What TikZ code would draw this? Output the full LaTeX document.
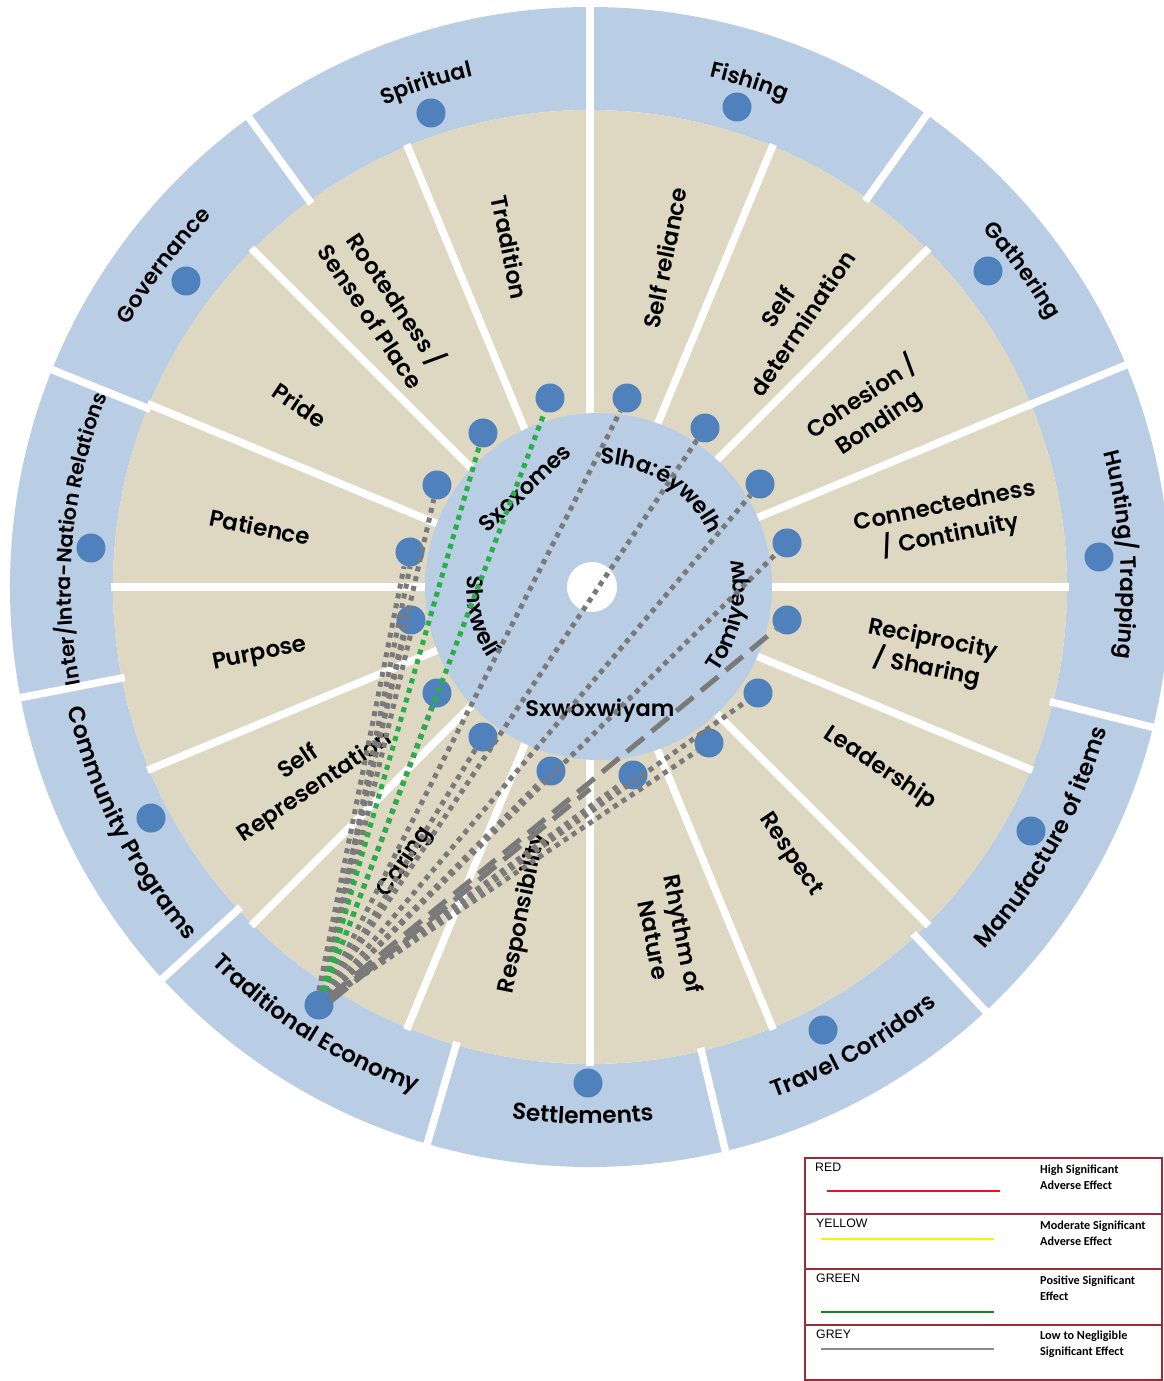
\documentclass[tikz,border=0pt]{standalone}
\usepackage{fontspec}
\usetikzlibrary{decorations.text}
\newfontfamily\lab{Poppins SemiBold}
\newfontfamily\legA{Liberation Sans}
\newfontfamily\legB{Carlito}
\definecolor{ringblue}{HTML}{B9CDE4}
\definecolor{beige}{HTML}{DED8C3}
\definecolor{dotblue}{HTML}{4F81BD}
\definecolor{lgrey}{HTML}{7A7A7A}
\definecolor{lgreen}{HTML}{2AAE48}
\definecolor{legred}{HTML}{9E2A36}
\definecolor{legline}{HTML}{E8141E}
\definecolor{legyellow}{HTML}{F7F200}
\definecolor{leggreen}{HTML}{12881E}
\definecolor{leggrey}{HTML}{8C8C8C}
\newcommand\olab{\lab\fontsize{22}{24}\selectfont}
\newcommand\olabb{\lab\fontsize{23.2}{25}\selectfont}
\newcommand\olabs{\lab\fontsize{20.7}{24}\selectfont}
\newcommand\ilab{\lab\fontsize{22.5}{24}\selectfont}
\newcommand\blabf{\lab\fontsize{23}{30}\selectfont}
% clockwise / counter-clockwise text along an arc: angle, radius, half span, text
\newcommand\cwtext[4]{\path[decorate,decoration={text along path,text align=center,text={#4}}] ({#1+#3}:#2pt) arc[start angle={#1+#3},end angle={#1-#3},radius=#2pt];}
\newcommand\ccwtext[4]{\path[decorate,decoration={text along path,text align=center,text={#4}}] ({#1-#3}:#2pt) arc[start angle={#1-#3},end angle={#1+#3},radius=#2pt];}
\tikzset{
  dot/.style={circle,fill=dotblue,minimum size=29pt,inner sep=0pt},
  spoke/.style={draw=white,line width=7.5pt},
  blab/.style={font=\blabf,align=center,inner sep=0pt,text=black},
  ilabel/.style={font=\ilab,inner sep=0pt,text=black},
  gdot/.style={draw=lgrey,line width=5pt,dash pattern=on 5pt off 5pt},
  grdot/.style={draw=lgreen,line width=5pt,dash pattern=on 5pt off 5pt},
  ldash/.style={draw=lgrey,line width=5pt,dash pattern=on 22pt off 10pt},
  legtitle/.style={font=\legA\fontsize{12.3}{14}\selectfont,anchor=west,inner sep=0pt},
  legdesc/.style={font=\legB\bfseries\fontsize{12.2}{16}\selectfont,anchor=west,align=left,inner sep=0pt},
}
\begin{document}
\begin{tikzpicture}[x=1pt,y=1pt]
\useasboundingbox (-590,-794) rectangle (574,587);
% rings
\fill[ringblue,even odd rule] (0,0) circle[radius=580pt] (0,0) circle[radius=477pt];
\fill[beige] (0,0) circle[radius=477pt];
\foreach \a in {0,22.5,...,337.5} \draw[spoke] (\a:165pt) -- (\a:479pt);
\foreach \a in {90,54.5,22.5,-14,-47,-76.5,-106.3,-137.5,-169,158,126} \draw[spoke] (\a:474pt) -- (\a:586pt);
\fill[ringblue] (8.5,0.5) circle[radius=173.5pt];
\fill[white] (2,0) circle[radius=25pt];
% outer labels
\cwtext{108}{524}{40}{|\olab|Spiritual}
\cwtext{72.5}{524}{40}{|\olab|Fishing}
\cwtext{36.2}{531}{40}{|\olab|Gathering}
\cwtext{3.5}{531}{40}{|\olab|Hunting/ Trapping}
\cwtext{174.6}{519}{40}{|\olabs|Inter/Intra-Nation Relations}
\cwtext{143}{530}{40}{|\olab|Governance}
\ccwtext{-29}{536}{40}{|\olabb|Manufacture of items}
\ccwtext{-60.2}{543}{40}{|\olabb|Travel Corridors}
\ccwtext{-90.8}{537}{40}{|\olabb|Settlements}
\ccwtext{-122.1}{534}{40}{|\olabb|Traditional Economy}
\ccwtext{-152.8}{536}{40}{|\olabb|Community Programs}
% middle ring labels
\node[blab,rotate=11.25] (lcon) at (358,65) {Connectedness\\/ Continuity};
\node[blab,rotate=33.75] (lcoh) at (280,177) {Cohesion /\\Bonding};
\node[blab,rotate=56.25] (lsdt) at (200,272) {Self\\determination};
\node[blab,rotate=78.75] (lsrl) at (75,329) {Self reliance};
\node[blab,rotate=-78.75] (ltra) at (-80,340) {Tradition};
\node[blab,rotate=-56.25] (lroo) at (-205,280) {Rootedness /\\Sense of Place};
\node[blab,rotate=-33.75] (lpri) at (-290,182) {Pride};
\node[blab,rotate=-11.25] (lpat) at (-330,60) {Patience};
\node[blab,rotate=11.25] (lpur) at (-330,-68) {Purpose};
\node[blab,rotate=33.75] (lsrp) at (-283,-188) {Self\\Representation};
\node[blab,rotate=56.25] (lcar) at (-185,-275) {Caring};
\node[blab,rotate=78.75] (lrsp) at (-67,-326) {Responsibility};
\node[blab,rotate=-78.75] (lrhy) at (79,-350) {Rhythm of\\Nature};
\node[blab,rotate=-56.25] (lres) at (200,-268) {Respect};
\node[blab,rotate=-33.75] (llea) at (290,-181) {Leadership};
\node[blab,rotate=-11.25] (lrec) at (340,-68) {Reciprocity\\/ Sharing};
% inner labels
\node[ilabel,rotate=43] (lsxo) at (-65,99) {Sxoxomes};
\begin{scope}[shift={(8,0)}]
\cwtext{57}{123}{75}{|\ilab|Slha:éywelh}
\ccwtext{194}{131}{70}{|\ilab|Shxwelí}
\ccwtext{-12.5}{147}{70}{|\ilab|Tomiyeqw}
\end{scope}
\node[ilabel] (lsxw) at (10,-124) {Sxwoxwiyam};
% outer dots
\node[dot] (spi) at (-159,474) {};
\node[dot] (fis) at (147,480) {};
\node[dot] (gat) at (398,316) {};
\node[dot] (hun) at (509,30) {};
\node[dot] (man) at (441,-244) {};
\node[dot] (trc) at (233,-443) {};
\node[dot] (set) at (-2,-496) {};
\node[dot] (te) at (-271,-418) {};
\node[dot] (com) at (-439,-231) {};
\node[dot] (int) at (-499,39) {};
\node[dot] (gov) at (-404,306) {};
% inner dots
\node[dot] (tra) at (-40,189) {};
\node[dot] (srl) at (37,189) {};
\node[dot] (sdt) at (115,159) {};
\node[dot] (coh) at (170,103) {};
\node[dot] (con) at (197,44) {};
\node[dot] (rec) at (197,-33) {};
\node[dot] (lea) at (168,-106) {};
\node[dot] (res) at (119,-156) {};
\node[dot] (rhy) at (43,-188) {};
\node[dot] (rsp) at (-39,-184) {};
\node[dot] (car) at (-107,-150) {};
\node[dot] (srp) at (-153,-106) {};
\node[dot] (pur) at (-179,-33) {};
\node[dot] (pat) at (-180,35) {};
\node[dot] (pri) at (-153,102) {};
\node[dot] (roo) at (-107,154) {};
\coordinate (ldend) at (0,-196);
% connectors
\draw[gdot] (te) -- (pri);
\draw[gdot,transform canvas={xshift=-3pt}] (te) -- (pat);
\draw[gdot,transform canvas={xshift=3pt}] (te) -- (pat);
\draw[gdot,transform canvas={xshift=-3pt}] (te) -- (pur);
\draw[gdot,transform canvas={xshift=3pt}] (te) -- (pur);
\draw[gdot] (te) -- (srp);
\draw[gdot] (te) -- (car);
\draw[gdot] (te) -- (rsp);
\draw[gdot] (te) -- (rhy);
\draw[gdot] (te) -- (res);
\draw[gdot] (te) -- (lea);
\draw[gdot] (te) -- (con);
\draw[gdot] (te) -- (coh);
\draw[gdot] (te) -- (sdt);
\draw[gdot] (te) -- (srl);
\draw[ldash] (te) -- (rec);
\draw[ldash,transform canvas={yshift=-6pt}] (te) -- (ldend);
\draw[grdot] (te) -- (roo);
\draw[grdot] (te) -- (tra);
% legend
\draw[legred,line width=1.5pt] (215,-571) rectangle (572,-793);
\draw[legred,line width=1.2pt] (215,-627) -- (572,-627);
\draw[legred,line width=1.2pt] (215,-682) -- (572,-682);
\draw[legred,line width=1.2pt] (215,-738) -- (572,-738);
\node[legtitle] (lgr) at (225,-580.5) {RED};
\node[legtitle] (lgy) at (226,-636) {YELLOW};
\node[legtitle] (lgg) at (226,-691.5) {GREEN};
\node[legtitle] (lgx) at (226,-747) {GREY};
\draw[legline,line width=2.8pt] (237,-604) -- (410,-604);
\draw[legyellow,line width=2.8pt] (231,-652) -- (404,-652);
\draw[leggreen,line width=2.8pt] (231,-725) -- (404,-725);
\draw[leggrey,line width=2.8pt] (231,-762) -- (404,-762);
\node[legdesc] (dgr) at (450,-590) {High Significant\\Adverse Effect};
\node[legdesc] (dgy) at (450,-646) {Moderate Significant\\Adverse Effect};
\node[legdesc] (dgg) at (450,-701.5) {Positive Significant\\Effect};
\node[legdesc] (dgx) at (450,-757) {Low to Negligible\\Significant Effect};
\end{tikzpicture}
\end{document}
